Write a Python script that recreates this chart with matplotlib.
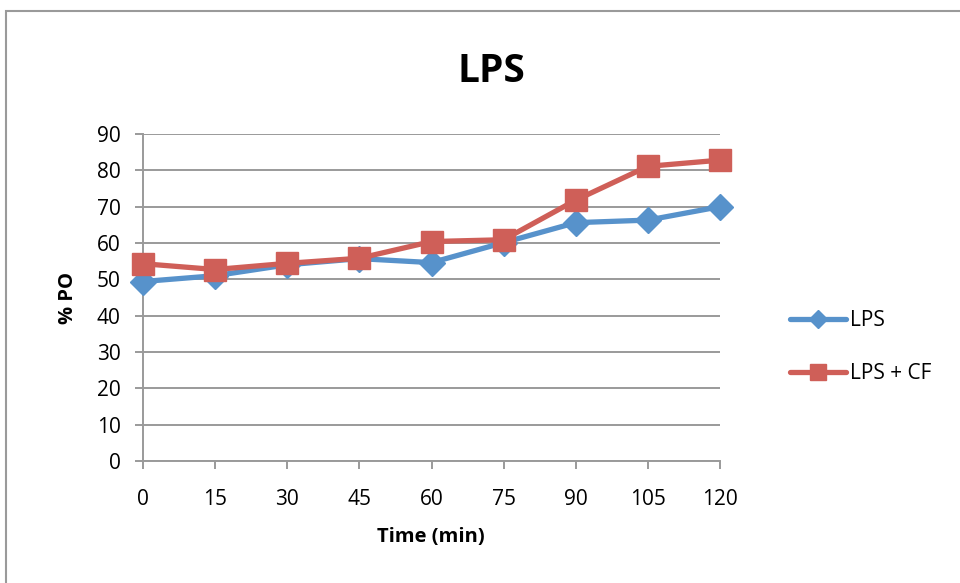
import matplotlib.pyplot as plt
from matplotlib.patches import Rectangle

# данные графика
time_min = [0, 15, 30, 45, 60, 75, 90, 105, 120]
lps = [49.4, 51.0, 54.0, 55.7, 54.6, 60.1, 65.6, 66.3, 70.0]
lps_cf = [54.3, 52.7, 54.4, 55.8, 60.4, 60.9, 71.8, 81.1, 82.8]
y_ticks = [0, 10, 20, 30, 40, 50, 60, 70, 80, 90]

plt.rcParams['font.family'] = ['Open Sans', 'DejaVu Sans']

fig = plt.figure(figsize=(9.6, 5.83), dpi=100)
ax = fig.add_axes([143 / 960, 1 - 461 / 583, (720 - 143) / 960, (461 - 134) / 583])

grid_col = '#9a9a9a'
ax.plot(time_min, lps, color='#5792cb', lw=3.8, marker='D', ms=13,
        label='LPS', zorder=3, solid_capstyle='round', clip_on=False)
ax.plot(time_min, lps_cf, color='#cf5f58', lw=3.8, marker='s', ms=15.5,
        label='LPS + CF', zorder=4, solid_capstyle='round', clip_on=False)

ax.set_xlim(0, 120)
ax.set_ylim(0, 90)
ax.set_xticks(time_min)
ax.set_yticks(y_ticks)
ax.yaxis.grid(True, color=grid_col, lw=1.4)
ax.set_axisbelow(True)
for s in ['top', 'right']:
    ax.spines[s].set_visible(False)
for s in ['left', 'bottom']:
    ax.spines[s].set_color(grid_col)
    ax.spines[s].set_linewidth(1.4)
ax.tick_params(axis='both', colors=grid_col, width=1.4, length=6,
               labelsize=15, labelcolor='black')
ax.tick_params(axis='x', pad=14)
ax.tick_params(axis='y', pad=10)

fig.text(491 / 960, 1 - 72 / 583, 'LPS', fontsize=28, fontweight='bold',
         ha='center', va='center')
fig.text(431 / 960, 1 - 537 / 583, 'Time (min)', fontsize=14.5,
         fontweight='bold', ha='center', va='center')
fig.text(68 / 960, 1 - 298 / 583, '% PO', fontsize=14.5, fontweight='bold',
         ha='center', va='center', rotation=90)

leg = ax.legend(loc='center left', bbox_to_anchor=(771 / 960, 1 - 347 / 583),
                bbox_transform=fig.transFigure, frameon=False,
                fontsize=15, handlelength=2.7, labelspacing=1.55,
                handletextpad=0.2)
leg.legend_handles[0].set_markersize(9)
leg.legend_handles[1].set_markersize(11)

# рамка вокруг диаграммы
fig.patches.append(Rectangle((6 / 960, -0.1), 1.2, 1 - 11 / 583 + 0.1,
                             transform=fig.transFigure, fill=False,
                             edgecolor='#9a9a9a', lw=1.5))

fig.savefig('out.png', dpi=100)
